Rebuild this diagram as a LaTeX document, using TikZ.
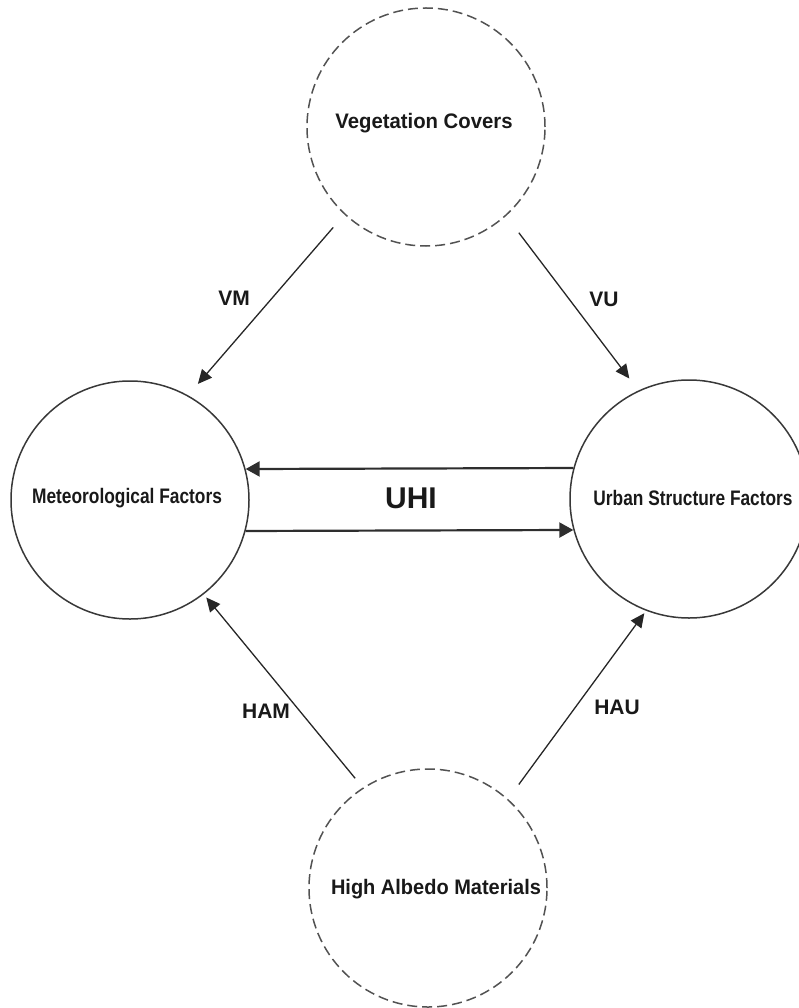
\documentclass[tikz,border=0pt]{standalone}
\usepackage{fontspec}
\setmainfont{Liberation Sans}
\usetikzlibrary{arrows.meta}
\begin{document}
\begin{tikzpicture}[x=1pt,y=-1pt,
  solidcirc/.style={circle,draw=black!78,line width=1.5pt,minimum size=238pt,inner sep=0pt},
  dashcirc/.style={circle,draw=black!68,line width=1.5pt,dash pattern=on 10pt off 5pt,minimum size=238pt,inner sep=0pt},
  lab/.style={font=\bfseries\fontsize{21}{24}\selectfont,inner sep=0pt,text=black!90},
  diag/.style={draw=black!85,line width=1.3pt,-{Triangle[length=14pt,width=13pt]}},
  horiz/.style={draw=black!82,line width=2.2pt,-{Triangle[length=14pt,width=15pt]}}]
\useasboundingbox (0,0) rectangle (799,1008);
\node[dashcirc] (T) at (426,127) {};
\node[solidcirc] (L) at (130,500) {};
\node[solidcirc] (R) at (689,499) {};
\node[dashcirc] (B) at (428,888) {};
\node[lab] (tT) at (424,123) {\scalebox{0.967}[1]{Vegetation Covers}};
\node[lab] (tL) at (127,498) {\scalebox{0.826}[1]{Meteorological Factors}};
\node[lab] (tR) at (693,498) {\scalebox{0.824}[1]{Urban Structure Factors}};
\node[lab] (tB) at (436,889) {\scalebox{0.952}[1]{High Albedo Materials}};
\node[font=\bfseries\fontsize{30}{34}\selectfont,inner sep=0pt,text=black!90] (uhi) at (411,498) {UHI};
\node[lab] (vm) at (234,298) {VM};
\node[lab] (vu) at (604,299) {VU};
\node[lab] (ham) at (266,711) {HAM};
\node[lab] (hau) at (617,707) {HAU};
\draw[diag,shorten <=17pt,shorten >=15pt] (T.227) -- (L.61);
\draw[diag,shorten <=21pt,shorten >=15pt] (T.312) -- (R.115);
\draw[diag,shorten <=12pt,shorten >=4pt] (B.123) -- (L.308);
\draw[diag,shorten <=18pt,shorten >=3pt] (B.48) -- (R.249);
\draw[horiz] (R.165) -- (L.15);
\draw[horiz] (L.-15) -- (R.195);
\end{tikzpicture}
\end{document}
